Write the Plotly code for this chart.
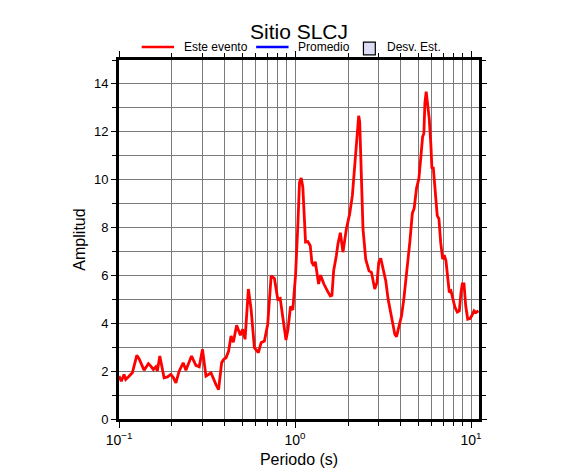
import math
import plotly.graph_objects as go

# ---- data ----
period = [0.1000, 0.1031, 0.1068, 0.1092, 0.1140, 0.1191, 0.1262, 0.1300, 0.1388, 0.1469,
          0.1516, 0.1568, 0.1618, 0.1652, 0.1705, 0.1804, 0.1884, 0.1970, 0.2039, 0.2104,
          0.2197, 0.2315, 0.2399, 0.2505, 0.2582, 0.2735, 0.2856, 0.2920, 0.2982, 0.3119,
          0.3331, 0.3556, 0.3680, 0.3828, 0.3930, 0.4055, 0.4196, 0.4330, 0.4463, 0.4660,
          0.4892, 0.5042, 0.5202, 0.5433, 0.5629, 0.5878, 0.6194, 0.6417, 0.6700, 0.6998,
          0.7318, 0.7642, 0.7980, 0.8236, 0.8521, 0.8886, 0.9122, 0.9428, 0.9716, 1.0065,
          1.0375, 1.0607, 1.0846, 1.1077, 1.1476, 1.1828, 1.2207, 1.2466, 1.2797, 1.3035,
          1.3311, 1.3611, 1.3973, 1.4591, 1.5379, 1.5872, 1.6208, 1.6574, 1.7172, 1.7535,
          1.8093, 1.8725, 1.9576, 2.0444, 2.1182, 2.1827, 2.2320, 2.2704, 2.3004, 2.3308,
          2.3709, 2.4339, 2.5217, 2.6333, 2.7177, 2.8379, 2.9248, 2.9908, 3.0704, 3.1645,
          3.2787, 3.3792, 3.5336, 3.6898, 3.7731, 3.8889, 4.0290, 4.1520, 4.3016, 4.4921,
          4.6417, 4.7521, 4.9044, 5.0546, 5.1892, 5.3066, 5.3978, 5.4692, 5.5631, 5.6665,
          5.7865, 5.9172, 5.9955, 6.0986, 6.1791, 6.2941, 6.4275, 6.5728, 6.7213, 6.9001,
          7.0462, 7.2056, 7.4264, 7.5244, 7.6944, 7.8683, 8.1097, 8.3560, 8.5782, 8.7718,
          8.9227, 9.1229, 9.3290, 9.5763, 9.8696, 10.0925, 10.401, 10.678, 11.033]
amplitude = [1.79, 1.58, 1.86, 1.65, 1.79, 1.93, 2.66, 2.52, 2.04, 2.31,
             2.21, 2.07, 2.18, 2.00, 2.63, 1.72, 1.76, 1.86, 1.72, 1.51,
             2.00, 2.35, 2.04, 2.35, 2.63, 2.24, 2.18, 2.56, 2.91, 1.79,
             1.93, 1.44, 1.23, 2.35, 2.49, 2.56, 2.84, 3.47, 3.21, 3.92,
             3.50, 3.75, 3.33, 5.43, 4.59, 2.98, 2.77, 3.19, 3.26, 3.96,
             5.98, 5.87, 5.00, 5.04, 4.24, 3.30, 3.75, 4.70, 4.56, 5.98,
             8.08, 9.90, 10.07, 9.69, 7.39, 7.41, 7.24, 6.55, 6.40, 6.57,
             6.13, 5.64, 6.01, 5.64, 5.31, 5.14, 5.17, 6.19, 6.82, 7.31,
             7.78, 6.97, 7.94, 8.57, 9.34, 10.60, 11.44, 11.86, 12.67, 12.42,
             10.60, 7.94, 6.68, 6.19, 6.13, 5.43, 5.71, 6.55, 6.71, 6.27,
             5.77, 5.01, 4.31, 3.54, 3.44, 3.89, 4.31, 5.01, 6.00, 7.40,
             8.60, 8.80, 9.65, 10.04, 10.95, 11.79, 11.93, 13.20, 13.68, 13.12,
             12.56, 11.44, 10.46, 10.53, 10.04, 9.20, 8.50, 8.36, 7.39, 6.68,
             6.85, 6.61, 5.71, 5.29, 5.35, 5.01, 4.66, 4.47, 4.52, 5.29,
             5.64, 5.64, 4.73, 4.17, 4.20, 4.31, 4.52, 4.45, 4.52]

x_range = [0.1, 11.1]
y_range = [0, 15]
x_major = [0.1, 1, 10]
x_major_text = ["10<sup>\u22121</sup>", "10<sup>0</sup>", "10<sup>1</sup>"]
x_minor = [k * 10.0 ** e for e in (-1, 0, 1) for k in range(1, 10) if k * 10.0 ** e <= x_range[1]]
y_major = list(range(0, 15, 2))
y_minor = list(range(0, 16))

title_text = "Sitio SLCJ"
legend_labels = ["Este evento", "Promedio", "Desv. Est."]
x_title = "Periodo (s)"
y_title = "Amplitud"

FONT = "Liberation Sans, Arial, Helvetica, sans-serif"
GRID = "#7a7a7a"

# page body adds an 8px offset, so the figure is sized to fit the 586x475 window
W, H = 578, 467

fig = go.Figure()
fig.add_trace(go.Scatter(x=period, y=amplitude, mode="lines",
                         line=dict(color="#ff0000", width=2.8),
                         name=legend_labels[0], showlegend=False))

fig.update_layout(
    width=W, height=H,
    margin=dict(l=111, r=107, t=52, b=56, autoexpand=False),
    paper_bgcolor="white", plot_bgcolor="white",
    font=dict(family=FONT, color="black", size=13),
    showlegend=False,
    title=dict(text=title_text, x=291 / W, xanchor="center", y=1 - 24 / H, yanchor="middle",
               font=dict(size=21, family=FONT, color="black")),
)

fig.update_xaxes(
    type="log", range=[math.log10(x_range[0]), math.log10(x_range[1])],
    tickmode="array", tickvals=x_major, ticktext=x_major_text,
    ticks="outside", ticklen=6, tickwidth=1, tickcolor="black",
    showgrid=True, gridcolor=GRID, gridwidth=1,
    minor=dict(tickmode="array", tickvals=x_minor, ticks="outside", ticklen=4,
               tickcolor="black", tickwidth=1, showgrid=True, gridcolor=GRID, gridwidth=1),
    showline=True, linecolor="black", linewidth=3, mirror="allticks",
    zeroline=False, tickfont=dict(size=14, family=FONT), automargin=False,
    title=dict(text=x_title, font=dict(size=16, family=FONT), standoff=8),
)
fig.update_yaxes(
    range=y_range,
    tickmode="array", tickvals=y_major,
    ticks="outside", ticklen=5, tickwidth=1, tickcolor="black",
    showgrid=True, gridcolor=GRID, gridwidth=1,
    minor=dict(tickmode="array", tickvals=y_minor, ticks="outside", ticklen=4,
               tickcolor="black", tickwidth=1, showgrid=True, gridcolor=GRID, gridwidth=1),
    showline=True, linecolor="black", linewidth=3, mirror="allticks",
    zeroline=False, tickfont=dict(size=13, family=FONT), automargin=False,
    title=dict(text=y_title, font=dict(size=16, family=FONT), standoff=5),
)

# ---- legend drawn above the frame ----
ly = 1.036
fig.add_shape(type="line", xref="paper", yref="paper", x0=0.063, x1=0.153, y0=ly, y1=ly,
              line=dict(color="#ff0000", width=2.5))
fig.add_shape(type="line", xref="paper", yref="paper", x0=0.381, x1=0.471, y0=ly, y1=ly,
              line=dict(color="#0000ff", width=2.5))
fig.add_shape(type="rect", xref="paper", yref="paper", x0=0.679, x1=0.712, y0=1.014, y1=1.050,
              line=dict(color="black", width=1.2), fillcolor="#dcdcf5")
for xt, txt in zip([0.174, 0.491, 0.739], legend_labels):
    fig.add_annotation(text=txt, xref="paper", yref="paper", x=xt, y=ly, xanchor="left",
                       yanchor="middle", showarrow=False, font=dict(size=12, family=FONT))

fig.write_html("out.html")
